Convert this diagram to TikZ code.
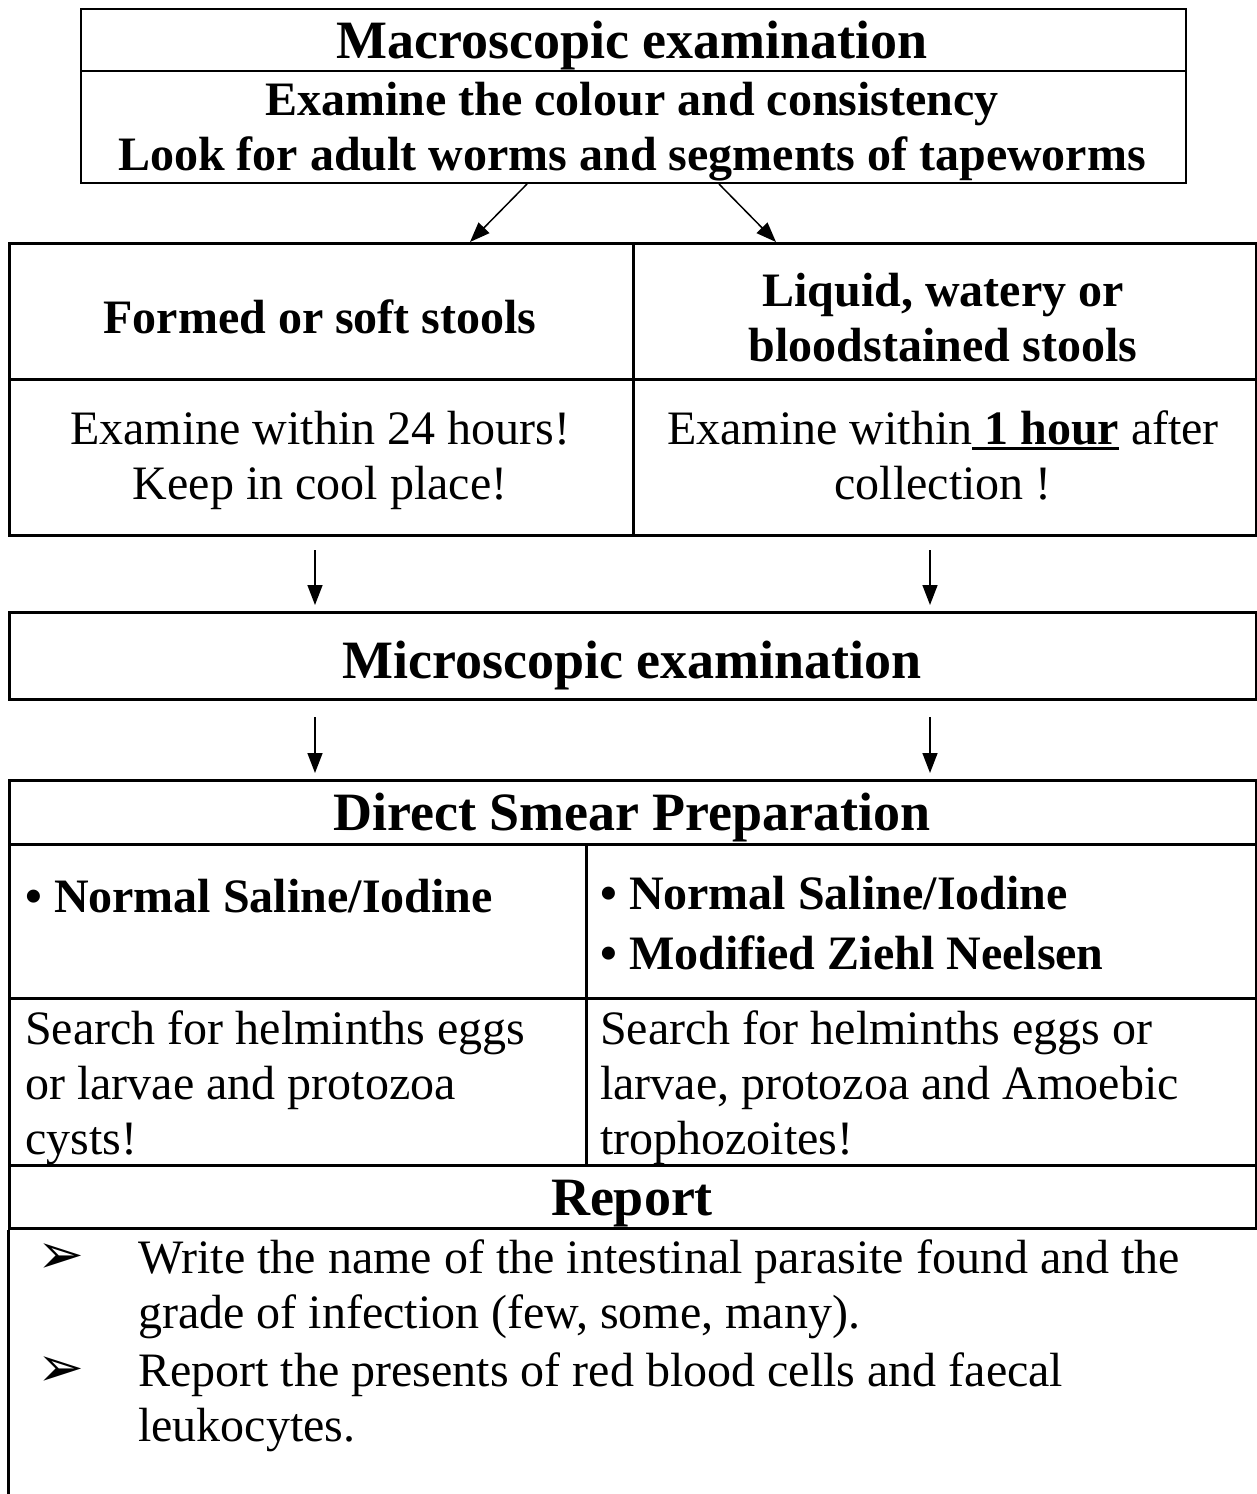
\documentclass[tikz,border=0pt]{standalone}
\usepackage{fontspec}
\setmainfont{Liberation Serif}
\newfontfamily\dejavu{DejaVu Sans}
\usetikzlibrary{arrows.meta}
\newcommand\ulbold[1]{\setbox0\hbox{#1}\rlap{\rule[-6pt]{\wd0}{3pt}}\box0\relax}
\begin{document}
\begin{tikzpicture}[x=1pt,y=-1pt,
  cell/.style={draw, line width=3pt, inner sep=0pt, anchor=north west},
  thincell/.style={cell, line width=2pt},
  txt/.style={inner sep=0pt, anchor=base, font=\fontsize{48}{55}\selectfont},
  btxt/.style={txt, font=\fontsize{48}{55}\selectfont\bfseries},
  headtxt/.style={txt, font=\fontsize{54}{60}\selectfont\bfseries},
  ltxt/.style={txt, anchor=base west},
  lbtxt/.style={btxt, anchor=base west},
  bul/.style={inner sep=0pt, anchor=base, font=\fontsize{56}{56}\dejavu},
  arr/.style={-{Triangle[length=20pt,width=15pt]}, line width=1.5pt}]
\useasboundingbox (0,0) rectangle (1257,1494);
% cells
\node[thincell, minimum width=1105pt, minimum height=62pt] (mhead) at (80,8) {};
\node[thincell, minimum width=1105pt, minimum height=112pt] (mbody) at (80,70) {};
\node[cell, minimum width=624pt, minimum height=136pt] (formed) at (8,242) {};
\node[cell, minimum width=623pt, minimum height=136pt] (liquid) at (632,242) {};
\node[cell, minimum width=624pt, minimum height=156pt] (ltime) at (8,378) {};
\node[cell, minimum width=623pt, minimum height=156pt] (rtime) at (632,378) {};
\node[cell, minimum width=1247pt, minimum height=87pt] (micro) at (8,611) {};
\node[cell, minimum width=1247pt, minimum height=64pt] (smear) at (8,779) {};
\node[cell, minimum width=577pt, minimum height=154pt] (stainl) at (8,843) {};
\node[cell, minimum width=670pt, minimum height=154pt] (stainr) at (585,843) {};
\node[cell, minimum width=577pt, minimum height=167pt] (searchl) at (8,997) {};
\node[cell, minimum width=670pt, minimum height=167pt] (searchr) at (585,997) {};
\node[cell, minimum width=1247pt, minimum height=63pt] (rephead) at (8,1164) {};
\draw[line width=3pt] (rephead.south west) -- ++(0,280);
\draw[line width=3pt] (rephead.south east) -- ++(0,280);
% arrows
\draw[arr] ([xshift=447pt]mbody.south west) -- ([xshift=462pt]formed.north west);
\draw[arr] ([xshift=639pt]mbody.south west) -- ([xshift=144pt]liquid.north west);
\draw[arr, shorten <=13pt, shorten >=6pt] ([xshift=307pt]ltime.south west) -- ([xshift=307pt]micro.north west);
\draw[arr, shorten <=13pt, shorten >=6pt] ([xshift=298pt]rtime.south west) -- ([xshift=922pt]micro.north west);
\draw[arr, shorten <=16pt, shorten >=6pt] ([xshift=307pt]micro.south west) -- ([xshift=307pt]smear.north west);
\draw[arr, shorten <=16pt, shorten >=6pt] ([xshift=922pt]micro.south west) -- ([xshift=922pt]smear.north west);
% texts
\node[headtxt] (t1) at (632,58) {Macroscopic examination};
\node[btxt] (t2) at (632,115) {Examine the colour and consistency};
\node[btxt] (t3) at (632,170) {Look for adult worms and segments of tapeworms};
\node[btxt] (t4) at (320,333) {Formed or soft stools};
\node[btxt] (t5) at (943,306) {Liquid, watery or};
\node[btxt] (t6) at (943,361) {bloodstained stools};
\node[txt] (t7) at (320,444) {Examine within 24 hours!};
\node[txt] (t8) at (320,499) {Keep in cool place!};
\node[txt] (t9) at (943,444) {Examine within\ulbold{\bfseries\ 1 hour} after};
\node[txt] (t10) at (943,499) {collection !};
\node[headtxt] (t11) at (632,678) {Microscopic examination};
\node[headtxt] (t12) at (632,830) {Direct Smear Preparation};
\node[lbtxt] (t13) at (25,912) {• Normal Saline/Iodine};
\node[lbtxt] (t14) at (600,909) {• Normal Saline/Iodine};
\node[lbtxt] (t15) at (600,969) {• Modified Ziehl Neelsen};
\node[ltxt] (t16) at (25,1044) {Search for helminths eggs};
\node[ltxt] (t17) at (25,1099) {or larvae and protozoa};
\node[ltxt] (t18) at (25,1154) {cysts!};
\node[ltxt] (t19) at (600,1044) {Search for helminths eggs or};
\node[ltxt] (t20) at (600,1099) {larvae, protozoa and Amoebic};
\node[ltxt] (t21) at (600,1154) {trophozoites!};
\node[headtxt] (t22) at (632,1215) {Report};
\node[bul] (b1) at (61,1273) {➢};
\node[ltxt] (t23) at (138,1273) {Write the name of the intestinal parasite found and the};
\node[ltxt] (t24) at (138,1328) {grade of infection (few, some, many).};
\node[bul] (b2) at (61,1386) {➢};
\node[ltxt] (t25) at (138,1386) {Report the presents of red blood cells and faecal};
\node[ltxt] (t26) at (138,1441) {leukocytes.};
\end{tikzpicture}
\end{document}
